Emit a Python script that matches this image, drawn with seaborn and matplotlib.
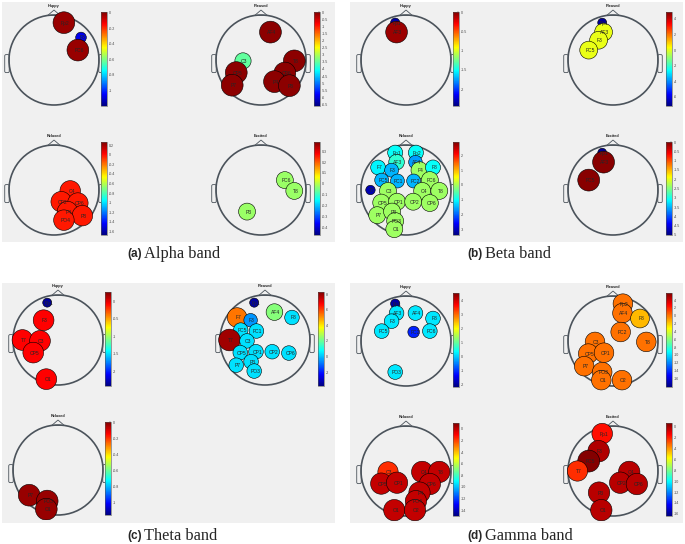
import pandas as pd
import seaborn as sns
import matplotlib.pyplot as plt
from matplotlib.patches import Rectangle, Polygon, Circle, FancyBboxPatch
from matplotlib.colors import Normalize, LinearSegmentedColormap
from matplotlib.cm import ScalarMappable

# 28-channel montage, head radius = 1
montage_ch = ['Fp1', 'Fp2', 'AF3', 'AF4', 'F7', 'F3', 'F4', 'F8',
              'FC5', 'FC1', 'FC2', 'FC6', 'T7', 'C3', 'C4', 'T8',
              'CP5', 'CP1', 'CP2', 'CP6', 'P7', 'P3', 'P4', 'P8',
              'PO3', 'PO4', 'O1', 'O2']
montage_x = [-0.24, 0.22, -0.21, 0.21, -0.62, -0.32, 0.30, 0.60,
             -0.54, -0.19, 0.17, 0.53, -0.79, -0.40, 0.36, 0.74,
             -0.55, -0.20, 0.16, 0.53, -0.64, -0.31, 0.30, 0.63,
             -0.24, 0.22, -0.26, 0.20]
montage_y = [0.83, 0.83, 0.62, 0.62, 0.50, 0.44, 0.44, 0.50,
             0.22, 0.20, 0.20, 0.22, 0.00, -0.02, -0.02, -0.02,
             -0.28, -0.26, -0.26, -0.29, -0.56, -0.48, -0.48, -0.57,
             -0.69, -0.67, -0.87, -0.87]

# (a) Alpha band
alpha_happy_ch = ['Fp2', 'F8', 'FC6']
alpha_happy_val = [-0.02, -1.07, -0.02]
alpha_happy_lim = (-1.2, 0.01)
alpha_happy_ticks = [0, -0.2, -0.4, -0.6, -0.8, -1]

alpha_pleased_ch = ['AF4', 'C3', 'CP5', 'P7', 'T8', 'CP6', 'P4', 'P8']
alpha_pleased_val = [-0.1, -3.5, -0.1, -0.1, -0.1, -0.1, -0.1, -0.1]
alpha_pleased_lim = (-6.6, 0.0)
alpha_pleased_ticks = [0, -0.5, -1, -1.5, -2, -2.5, -3, -3.5, -4, -4.5,
                       -5, -5.5, -6, -6.5]

alpha_relaxed_ch = ['C4', 'CP2', 'CP6', 'P4', 'P8', 'PO4']
alpha_relaxed_val = [-0.02, -0.02, -0.02, -0.02, -0.02, -0.02]
alpha_relaxed_lim = (-1.68, 0.27)
alpha_relaxed_ticks = [0.2, 0, -0.2, -0.4, -0.6, -0.8, -1, -1.2, -1.4, -1.6]

alpha_excited_ch = ['FC6', 'T8', 'P3']
alpha_excited_val = [-0.02, -0.02, -0.02]
alpha_excited_lim = (-0.47, 0.385)
alpha_excited_ticks = [0.3, 0.2, 0.1, 0, -0.1, -0.2, -0.3, -0.4]

# (b) Beta band
beta_happy_ch = ['Fp1', 'AF3']
beta_happy_val = [-2.35, -0.07]
beta_happy_lim = (-2.44, 0.0)
beta_happy_ticks = [0, -0.5, -1, -1.5, -2]

beta_pleased_ch = ['Fp1', 'AF3', 'F3', 'FC5']
beta_pleased_val = [-6.9, 0.1, 0.1, 0.1]
beta_pleased_lim = (-7.2, 4.9)
beta_pleased_ticks = [4, 2, 0, -2, -4, -6]

beta_relaxed_ch = ['Fp1', 'Fp2', 'AF3', 'AF4', 'F7', 'F3', 'F4', 'F8',
                   'FC5', 'FC1', 'FC2', 'FC6', 'T7', 'C3', 'C4', 'T8',
                   'CP5', 'CP1', 'CP2', 'CP6', 'P7', 'P3', 'PO3', 'O1']
beta_relaxed_val = [-1.0, -1.0, -0.75, -1.64, -1.1, -1.5, -0.06, -1.0,
                    -1.5, -1.5, -1.5, -0.06, -3.1, -0.06, -0.06, -0.06,
                    -0.06, -0.06, -0.06, -0.06, -0.06, -0.06, -0.06, -0.06]
beta_relaxed_lim = (-3.4, 2.9)
beta_relaxed_ticks = [2, 1, 0, -1, -2, -3]

beta_excited_ch = ['Fp1', 'AF3', 'FC5']
beta_excited_val = [-4.9, -0.05, -0.05]
beta_excited_lim = (-5.0, 0.0)
beta_excited_ticks = [0, -0.5, -1, -1.5, -2, -2.5, -3, -3.5, -4, -4.5, -5]

# (c) Theta band
theta_happy_ch = ['Fp1', 'F3', 'T7', 'C3', 'CP5', 'O1']
theta_happy_val = [-2.35, -0.08, -0.08, -0.08, -0.08, -0.08]
theta_happy_lim = (-2.42, 0.26)
theta_happy_ticks = [0, -0.5, -1, -1.5, -2]

theta_pleased_ch = ['Fp1', 'AF4', 'F7', 'F3', 'F8', 'FC5', 'FC1', 'T7',
                    'C3', 'CP5', 'CP1', 'CP2', 'CP6', 'P7', 'P3', 'PO3']
theta_pleased_val = [-3.4, 2.3, 5.4, -0.5, 0.4, 0.4, 0.4, 7.9,
                     0.4, 0.4, 0.4, 0.4, 0.4, 0.4, 0.4, 0.4]
theta_pleased_lim = (-3.8, 8.3)
theta_pleased_ticks = [8, 6, 4, 2, 0, -2]

theta_relaxed_ch = ['P7', 'PO3', 'O1']
theta_relaxed_val = [-0.03, -0.03, -0.03]
theta_relaxed_lim = (-1.16, 0.0)
theta_relaxed_ticks = [0, -0.2, -0.4, -0.6, -0.8, -1]

# (d) Gamma band
gamma_happy_ch = ['Fp1', 'AF3', 'AF4', 'F3', 'F8', 'FC5', 'FC2', 'FC6', 'PO3']
gamma_happy_val = [-1.9, 0.2, 0.2, 0.2, 0.2, 0.2, -1.1, 0.2, 0.2]
gamma_happy_lim = (-2.15, 4.5)
gamma_happy_ticks = [4, 3, 2, 1, 0, -1, -2]

gamma_pleased_ch = ['Fp2', 'AF4', 'F8', 'FC2', 'T8', 'C3', 'CP5', 'CP1',
                    'P7', 'PO3', 'O1', 'O2']
gamma_pleased_val = [0.1, 0.1, -1.6, 0.1, 0.1, 0.1, 0.1, 0.1,
                     0.1, 0.1, 0.1, 0.1]
gamma_pleased_lim = (-18.2, 5.8)
gamma_pleased_ticks = [4, 2, 0, -2, -4, -6, -8, -10, -12, -14, -16]

gamma_relaxed_ch = ['C3', 'CP5', 'CP1', 'C4', 'T8', 'CP6', 'P4', 'PO4',
                    'O1', 'O2']
gamma_relaxed_val = [-1.7, -0.1, -0.1, -0.1, -0.1, -0.1, -0.1, -0.1,
                     -0.1, -0.1]
gamma_relaxed_lim = (-15.0, 1.0)
gamma_relaxed_ticks = [0, -2, -4, -6, -8, -10, -12, -14]

gamma_excited_ch = ['Fp1', 'F3', 'FC5', 'T7', 'C4', 'CP2', 'CP6', 'P3', 'O1']
gamma_excited_val = [-1.7, -0.15, 0.6, -2.2, -0.3, -0.3, -0.3, -0.3, -0.3]
gamma_excited_lim = (-16.4, 0.7)
gamma_excited_ticks = [0, -2, -4, -6, -8, -10, -12, -14, -16]

panels = [
    ('a', 'Alpha band', [
        ('Happy', alpha_happy_ch, alpha_happy_val, alpha_happy_lim, alpha_happy_ticks),
        ('Pleased', alpha_pleased_ch, alpha_pleased_val, alpha_pleased_lim, alpha_pleased_ticks),
        ('Relaxed', alpha_relaxed_ch, alpha_relaxed_val, alpha_relaxed_lim, alpha_relaxed_ticks),
        ('Excited', alpha_excited_ch, alpha_excited_val, alpha_excited_lim, alpha_excited_ticks)]),
    ('b', 'Beta band', [
        ('Happy', beta_happy_ch, beta_happy_val, beta_happy_lim, beta_happy_ticks),
        ('Pleased', beta_pleased_ch, beta_pleased_val, beta_pleased_lim, beta_pleased_ticks),
        ('Relaxed', beta_relaxed_ch, beta_relaxed_val, beta_relaxed_lim, beta_relaxed_ticks),
        ('Excited', beta_excited_ch, beta_excited_val, beta_excited_lim, beta_excited_ticks)]),
    ('c', 'Theta band', [
        ('Happy', theta_happy_ch, theta_happy_val, theta_happy_lim, theta_happy_ticks),
        ('Pleased', theta_pleased_ch, theta_pleased_val, theta_pleased_lim, theta_pleased_ticks),
        ('Relaxed', theta_relaxed_ch, theta_relaxed_val, theta_relaxed_lim, theta_relaxed_ticks)]),
    ('d', 'Gamma band', [
        ('Happy', gamma_happy_ch, gamma_happy_val, gamma_happy_lim, gamma_happy_ticks),
        ('Pleased', gamma_pleased_ch, gamma_pleased_val, gamma_pleased_lim, gamma_pleased_ticks),
        ('Relaxed', gamma_relaxed_ch, gamma_relaxed_val, gamma_relaxed_lim, gamma_relaxed_ticks),
        ('Excited', gamma_excited_ch, gamma_excited_val, gamma_excited_lim, gamma_excited_ticks)]),
]

# layout in pixels (top-left origin)
W, H = 685, 544
R = 45
origin = {'a': (0, 0), 'b': (352, 0), 'c': (4, 280), 'd': (352, 281)}
bg = {'a': (2, 2, 333, 240), 'b': (350, 2, 333, 240),
      'c': (2, 283, 333, 240), 'd': (350, 283, 333, 240)}
caption = {'a': (142, 253.5), 'b': (483, 253.5), 'c': (142, 536), 'd': (483, 536)}
head_pos = [(54, 60), (261, 60), (54, 190), (261, 190)]
cbar_pos = [(101, 12, 94), (314, 12, 94), (101, 142, 93), (314, 142, 93)]
head_col = '#4b535b'

# MATLAB style jet
jet = LinearSegmentedColormap.from_list('mjet', [
    (0.0, (0, 0, 0.5)), (0.125, (0, 0, 1)), (0.375, (0, 1, 1)),
    (0.625, (1, 1, 0)), (0.875, (1, 0, 0)), (1.0, (0.5, 0, 0))])

sns.set_style('white')
plt.rcParams['font.family'] = ['Liberation Sans', 'DejaVu Sans']


def box(x, y, w, h):
    return [x / W, 1 - (y + h) / H, w / W, h / H]


def draw_head(ax, title):
    ax.add_patch(Circle((0, 0), 1, fill=False, ec=head_col, lw=1.2))
    ax.add_patch(Polygon([(-0.14, 0.99), (0, 1.11), (0.14, 0.99)], closed=True,
                         fill=False, ec=head_col, lw=0.6))
    for s in (-1, 1):
        ax.add_patch(FancyBboxPatch((s * 1.045 - 0.04, -0.27), 0.08, 0.38,
                                    boxstyle='round,pad=0.01,rounding_size=0.03',
                                    fill=False, ec=head_col, lw=0.6))
    ax.text(0, 1.2, title, fontsize=2.8, fontweight='bold', ha='center',
            va='center', color='#222222')


fig = plt.figure(figsize=(W / 100, H / 100), dpi=100)

for key, band, plots in panels:
    ox, oy = origin[key]
    bx, by, bw, bh = bg[key]
    fig.add_artist(Rectangle(box(bx, by, bw, bh)[:2], bw / W, bh / H,
                             transform=fig.transFigure, fc='#f0f0f0', ec='none', zorder=0))
    for i, (title, chans, vals, lim, ticks) in enumerate(plots):
        cx, cy = head_pos[i][0] + ox, head_pos[i][1] + oy
        ax = fig.add_axes(box(cx - 1.2 * R, cy - 1.3 * R, 2.4 * R, 2.42 * R))
        ax.patch.set_alpha(0)
        idx = [montage_ch.index(c) for c in chans]
        df = pd.DataFrame({'x': [montage_x[j] for j in idx],
                           'y': [montage_y[j] for j in idx],
                           'value': vals, 'ch': chans})
        draw_head(ax, title)
        sns.scatterplot(data=df, x='x', y='y', hue='value', palette=jet,
                        hue_norm=lim, size='value', sizes=(36, 250), size_norm=lim,
                        edgecolor='black', linewidth=0.4, legend=False, ax=ax, zorder=3)
        for _, r in df.iterrows():
            ax.text(r.x + 0.03, r.y - 0.01, r.ch, fontsize=3.6, ha='center',
                    va='center', zorder=4)
        ax.set_xlim(-1.2, 1.2)
        ax.set_ylim(-1.12, 1.3)
        ax.axis('off')

        px, py, ph = cbar_pos[i]
        cax = fig.add_axes(box(px + ox, py + oy, 6, ph))
        sm = ScalarMappable(norm=Normalize(*lim), cmap=jet)
        cb = fig.colorbar(sm, cax=cax, ticks=ticks)
        cb.ax.set_yticklabels(['%g' % t for t in ticks])
        cb.ax.tick_params(labelsize=2.6, length=1.2, width=0.3, direction='in',
                          pad=1.5, colors='#444444')
        cb.outline.set_linewidth(0.4)
        cb.outline.set_edgecolor('#555555')

    tx, ty = caption[key]
    fig.text(tx / W, 1 - ty / H, '(%s)' % key, fontsize=8.5,
             fontweight='bold', ha='right', va='center', family='Liberation Sans')
    fig.text((tx + 2) / W, 1 - ty / H, band, fontsize=11.8, ha='left',
             va='center', family='Liberation Serif')

fig.savefig('out.png', dpi=100, facecolor='white')
